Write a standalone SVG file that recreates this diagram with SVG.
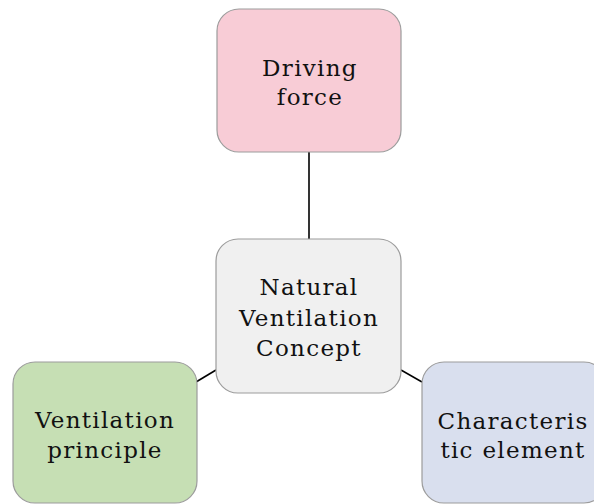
<svg xmlns="http://www.w3.org/2000/svg" width="594" height="504" viewBox="0 0 594 504">
  <style>
    .box { stroke: #9c9c9c; stroke-width: 1.2; }
    .lbl { font-family: "DejaVu Serif", "Liberation Serif", serif; font-size: 23px; fill: #111111; text-anchor: middle; letter-spacing: 1.3px; }
    .link { stroke: #000; stroke-width: 1.6; fill: none; }
  </style>
  <rect width="594" height="504" fill="#ffffff"/>
  <g id="connectors">
    <line class="link" x1="309" y1="152" x2="309" y2="239"/>
    <line class="link" x1="196" y1="382" x2="216" y2="370"/>
    <line class="link" x1="401" y1="370" x2="422" y2="382"/>
  </g>
  <g id="driving-force">
    <rect class="box" x="217" y="9" width="184" height="143" rx="22" fill="#f8ccd6"/>
    <text class="lbl" x="310" y="76">Driving</text>
    <text class="lbl" x="310" y="105">force</text>
  </g>
  <g id="concept">
    <rect class="box" x="216" y="239" width="185" height="154" rx="22" fill="#f0f0f0"/>
    <text class="lbl" x="309" y="295">Natural</text>
    <text class="lbl" x="309" y="326">Ventilation</text>
    <text class="lbl" x="309" y="356">Concept</text>
  </g>
  <g id="ventilation-principle">
    <rect class="box" x="13" y="362" width="184" height="141" rx="22" fill="#c6dfb4"/>
    <text class="lbl" x="105" y="428">Ventilation</text>
    <text class="lbl" x="105" y="458">principle</text>
  </g>
  <g id="characteristic-element">
    <rect class="box" x="422" y="362" width="184" height="141" rx="22" fill="#d9dfee"/>
    <text class="lbl" x="513" y="429">Characteris</text>
    <text class="lbl" x="513" y="458">tic element</text>
  </g>
</svg>
